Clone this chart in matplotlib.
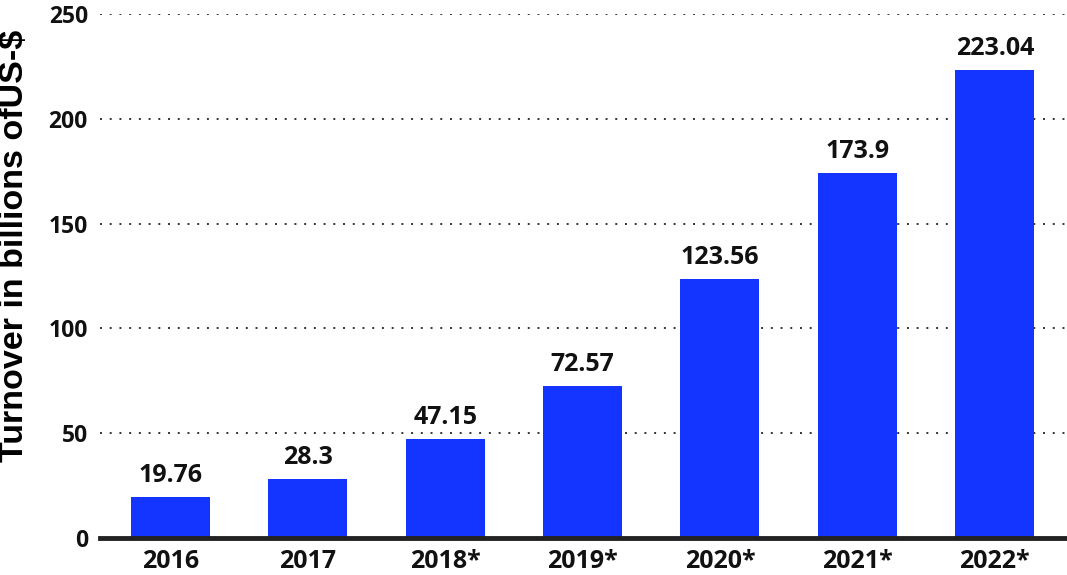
import matplotlib.pyplot as plt
import numpy as np

years = ['2016', '2017', '2018*', '2019*', '2020*', '2021*', '2022*']
turnover = [19.76, 28.3, 47.15, 72.57, 123.56, 173.9, 223.04]
value_labels = ['19.76', '28.3', '47.15', '72.57', '123.56', '173.9', '223.04']
yticks = [0, 50, 100, 150, 200, 250]

fig = plt.figure(figsize=(10.67, 5.75), dpi=100)
ax = fig.add_axes([0.094, 0.064, 0.904, 0.912])

x = np.arange(len(years))
ax.bar(x, turnover, width=0.575, color='#1434ff', zorder=3)

# value labels above bars
for xi, v, lab in zip(x, turnover, value_labels):
    ax.text(xi, v + 7.2, lab, ha='center', va='baseline', fontsize=18,
            fontweight='bold', family='Open Sans', color='#111111')

ax.set_xlim(-0.51, 6.51)
ax.set_ylim(0, 250)
ax.set_yticks(yticks)
ax.set_xticks(x)
ax.set_xticklabels(years)
for lab in ax.get_xticklabels():
    lab.set_fontsize(18)
for lab in ax.get_yticklabels():
    lab.set_fontsize(16.5)
for lab in ax.get_xticklabels() + ax.get_yticklabels():
    lab.set_fontweight('bold')
    lab.set_family('Open Sans')
    lab.set_color('#111111')

ax.tick_params(axis='both', length=0)
ax.tick_params(axis='y', pad=9)
ax.tick_params(axis='x', pad=8)
ax.grid(axis='y', linestyle=(0, (1, 4)), color='#333333', linewidth=1.4, zorder=0)
for s in ['top', 'right', 'left']:
    ax.spines[s].set_visible(False)
ax.spines['bottom'].set_linewidth(3.5)
ax.spines['bottom'].set_color('#222222')
ax.spines['bottom'].set_zorder(4)

ax.set_ylabel('Turnover in billions ofUS-$', fontsize=24.5, fontweight='bold',
              family='Liberation Sans')
ax.yaxis.set_label_coords(-0.073, 0.557)

plt.savefig('out.png', dpi=100)
